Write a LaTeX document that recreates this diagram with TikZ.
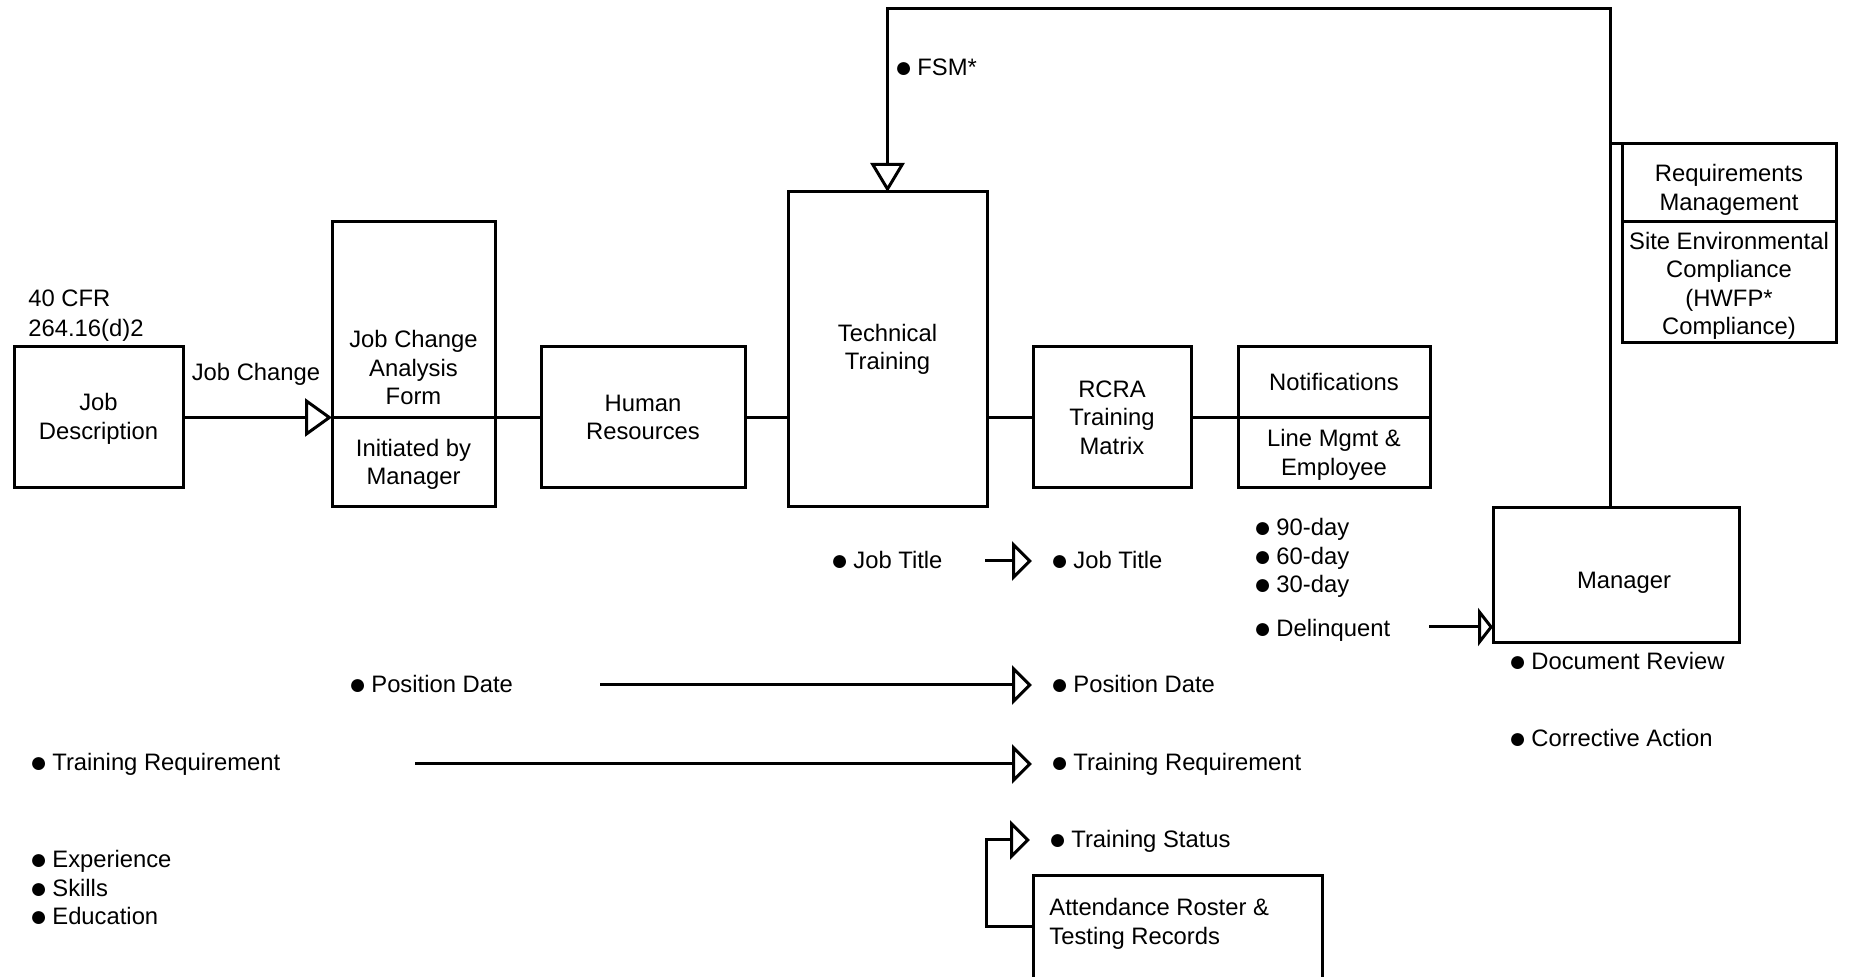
\documentclass[tikz,border=0pt]{standalone}
\usepackage{fontspec}
\setmainfont{Liberation Sans}
\usetikzlibrary{arrows.meta}
\newcommand{\dfont}{\fontsize{11.9pt}{14.25pt}\selectfont}
\newcommand{\bul}{\setbox0\hbox{●}\makebox[\wd0][c]{\smash{\raisebox{-1.1pt}{\fontsize{15pt}{14pt}\selectfont ●}}}}
\begin{document}
\begin{tikzpicture}[x=0.5pt,y=-0.5pt,
  every node/.style={font=\dfont},
  box/.style={draw, line width=1.5pt, inner sep=0pt, outer sep=0pt, align=center},
  txt/.style={inner sep=0pt, align=center},
  lbl/.style={inner sep=0pt, anchor=mid west},
  conn/.style={line width=1.5pt, line join=miter},
  bigtip/.style={-{Triangle[open,length=13.5pt,width=19pt]}},
  fsmtip/.style={-{Triangle[open,length=14.5pt,width=17pt]}},
  smalltip/.style={-{Triangle[open,length=10pt,width=19.5pt]}},
  dqtip/.style={-{Triangle[open,length=7.5pt,width=19pt]}}
]
\useasboundingbox (0,0) rectangle (1849,977);

% boxes
\node[box, minimum width=84.5pt, minimum height=70.5pt] (jd) at (98.5,417.5) {};
\node[txt] (jdTxt) at (98.5,419) {Job\\Description};
\node[box, minimum width=81.5pt, minimum height=97.75pt] (jcafT) at (413.5,319.75) {};
\node[txt] (jcafTxt) at (413.5,368) {Job Change\\Analysis\\Form};
\node[box, minimum width=81.5pt, minimum height=44.75pt] (jcafB) at (413.5,462.25) {};
\node[txt] (jcafBTxt) at (413.5,464.5) {Initiated by\\Manager};
\node[box, minimum width=102pt, minimum height=70.5pt] (hr) at (643,417.5) {Human\\Resources};
\node[box, minimum width=99.5pt, minimum height=157.5pt] (tt) at (887.5,349.5) {Technical\\Training};
\node[box, minimum width=79pt, minimum height=70.5pt] (rcra) at (1112,417.5) {RCRA\\Training\\Matrix};
\node[box, minimum width=96pt, minimum height=35.25pt] (notT) at (1334,382.25) {Notifications};
\node[box, minimum width=96pt, minimum height=35.25pt] (notB) at (1334,452.75) {};
\node[txt] (notBTxt) at (1334,455) {Line Mgmt \&\\Employee};
\node[box, minimum width=107pt, minimum height=39pt] (reqT) at (1729,183) {};
\node[txt] (reqTTxt) at (1729,190) {Requirements\\Management};
\node[box, minimum width=107pt, minimum height=60.5pt] (reqB) at (1729,282.5) {};
\node[txt] (reqBTxt) at (1729,286) {Site Environmental\\Compliance\\(HWFP*\\Compliance)};
\node[box, minimum width=123pt, minimum height=67.5pt] (mgr) at (1616,575.5) {};
\node[txt] (mgrTxt) at (1624,582.5) {Manager};
\node[box, minimum width=144.5pt, minimum height=62pt] (att) at (1177.5,938) {};
\node[txt, anchor=west, align=left] (attTxt) at (1049,924) {Attendance Roster \&\\Testing Records};

% plain labels
\node[txt, anchor=west, align=left, font=\fontsize{11.9pt}{14.8pt}\selectfont] (cfr) at (28,315.5) {40 CFR\\264.16(d)2};
\node[txt] (jclbl) at (256,374) {Job Change};

% bullet labels
\node[lbl] (fsm) at (896,70) {\bul\ FSM*};
\node[lbl] (jtL) at (832,563) {\bul\ Job Title};
\node[lbl] (jtR) at (1052,563) {\bul\ Job Title};
\node[lbl] (pdL) at (350,687) {\bul\ Position Date};
\node[lbl] (pdR) at (1052,687) {\bul\ Position Date};
\node[lbl] (trL) at (31,765) {\bul\ Training Requirement};
\node[lbl] (trR) at (1052,765) {\bul\ Training Requirement};
\node[lbl] (tsR) at (1050,842) {\bul\ Training Status};
\node[lbl] (exp) at (31,862) {\bul\ Experience};
\node[lbl] (skl) at (31,891) {\bul\ Skills};
\node[lbl] (edu) at (31,919) {\bul\ Education};
\node[lbl] (d90) at (1255,530) {\bul\ 90-day};
\node[lbl] (d60) at (1255,559) {\bul\ 60-day};
\node[lbl] (d30) at (1255,587) {\bul\ 30-day};
\node[lbl] (dlq) at (1255,631) {\bul\ Delinquent};
\node[lbl] (docrev) at (1510,664) {\bul\ Document Review};
\node[lbl] (corr) at (1510,741) {\bul\ Corrective Action};

% main flow
\draw[conn, bigtip] (jd.east) -- (jcafT.south west);
\draw[conn] (jcafT.south east) -- (hr.west);
\draw[conn] (hr.east) -- (hr.east -| tt.west);
\draw[conn] (rcra.west -| tt.east) -- (rcra.west);
\draw[conn] (rcra.east) -- (notT.south west);

% loop from manager to technical training
\coordinate (loopR) at (1610,9);
\draw[conn, fsmtip] (loopR |- mgr.north) -- (loopR) -| (tt.north);
\draw[conn] (reqT.north west) -- (reqT.north west -| loopR);

% label arrows
\coordinate (jt0) at (985,561);
\draw[conn, smalltip, shorten >=10pt] (jt0) -- (jt0 -| jtR.west);
\coordinate (pd0) at (600,685);
\draw[conn, smalltip, shorten >=10pt] (pd0) -- (pd0 -| pdR.west);
\coordinate (tr0) at (415,764);
\draw[conn, smalltip, shorten >=10pt] (tr0) -- (tr0 -| trR.west);
\coordinate (ts0) at (986,927);
\coordinate (ts1) at (986,840);
\draw[conn, smalltip, shorten >=10pt] (ts0 -| att.west) -- (ts0) -- (ts1) -- (ts1 -| tsR.west);
\coordinate (dq0) at (1429,627);
\draw[conn, dqtip] (dq0) -- (dq0 -| mgr.west);
\end{tikzpicture}
\end{document}
